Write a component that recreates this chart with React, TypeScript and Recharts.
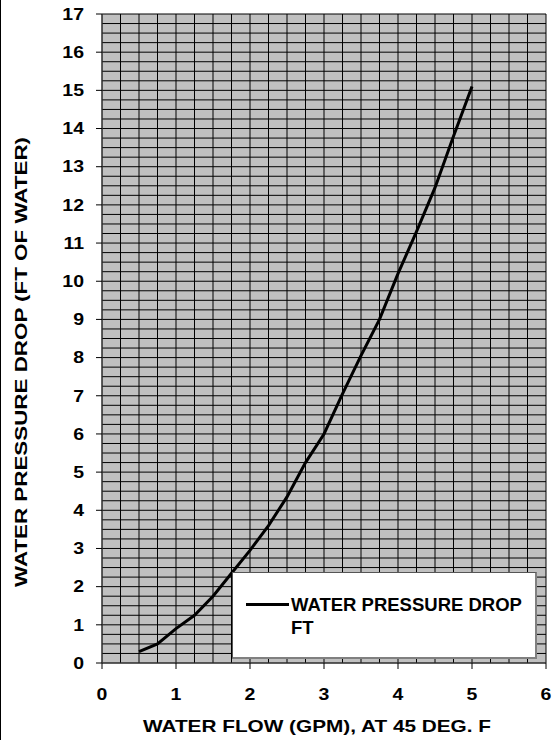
import React from 'react';
import { LineChart, Line, XAxis, YAxis, CartesianGrid } from 'recharts';

const flowGpm = [0.5, 0.75, 1, 1.25, 1.5, 1.75, 2, 2.25, 2.5, 2.75, 3, 3.25, 3.5, 3.75, 4, 4.25, 4.5, 4.75, 5];
const pressureDropFt = [0.3, 0.5, 0.9, 1.25, 1.75, 2.35, 2.95, 3.6, 4.35, 5.25, 6.0, 7.05, 8.05, 9.0, 10.2, 11.3, 12.45, 13.8, 15.1];
const xTicks = [0, 1, 2, 3, 4, 5, 6];
const yTicks = [0, 1, 2, 3, 4, 5, 6, 7, 8, 9, 10, 11, 12, 13, 14, 15, 16, 17];
const legendLines = ['WATER PRESSURE DROP', 'FT'];
const xTitle = 'WATER FLOW (GPM), AT 45 DEG. F';
const yTitle = 'WATER PRESSURE DROP (FT OF WATER)';

const data = flowGpm.map((x, i) => ({ x, y: pressureDropFt[i] }));

const gridX: number[] = [];
for (let i = 0; i <= 24; i++) gridX.push(i / 4);
const gridY: number[] = [];
for (let i = 0; i <= 68; i++) gridY.push(i / 4);

const FONT = 'Arial, "Liberation Sans", Helvetica, sans-serif';

const YTick = (props: any) => {
  const { x, y, payload } = props;
  return (
    <text
      transform={`translate(${x},${y}) scale(1.18,1)`}
      x={0}
      y={0}
      dy="0.35em"
      textAnchor="end"
      fontFamily={FONT}
      fontWeight="bold"
      fontSize={16.5}
      fill="#000"
    >
      {payload.value}
    </text>
  );
};

const XTick = (props: any) => {
  const { x, y, payload } = props;
  return (
    <text
      transform={`translate(${x},${y}) scale(1.18,1)`}
      x={0}
      y={0}
      dy="0.35em"
      textAnchor="middle"
      fontFamily={FONT}
      fontWeight="bold"
      fontSize={16.5}
      fill="#000"
    >
      {payload.value}
    </text>
  );
};

const LegendBox = () => (
  <div
    style={{
      position: 'absolute',
      left: 231,
      top: 572,
      width: 302,
      height: 84,
      background: '#fff',
      borderTop: '1px solid #555',
      borderLeft: '1px solid #555',
      borderRight: '2px solid #808080',
      borderBottom: '2px solid #808080',
      fontFamily: FONT,
      fontWeight: 'bold',
      fontSize: 18.5,
      color: '#000',
    }}
  >
    <div style={{ position: 'absolute', left: 13, top: 30, width: 43, height: 3, background: '#000' }} />
    <div style={{ position: 'absolute', left: 58, top: 20, lineHeight: '23px', whiteSpace: 'nowrap' }}>
      {legendLines[0]}
      <br />
      {legendLines[1]}
    </div>
  </div>
);

export default function App() {
  return (
    <div style={{ position: 'absolute', left: 0, top: 0, width: 559, height: 740, background: '#fff', borderLeft: '1px solid #000', boxSizing: 'border-box' }}>
      <LineChart width={558} height={740} data={data} margin={{ top: 14, right: 13, bottom: 0, left: 0 }}>
        <CartesianGrid
          fill="#C0C0C0"
          stroke="#000"
          strokeWidth={1}
          verticalValues={gridX}
          horizontalValues={gridY}
        />
        <XAxis
          type="number"
          dataKey="x"
          domain={[0, 6]}
          ticks={xTicks}
          height={77}
          tickSize={6}
          tickMargin={25}
          stroke="#404040"
          tickLine={{ stroke: '#000' }}
          tick={<XTick />}
          interval={0}
          label={{
            content: () => (
              <text
                x={316}
                y={726}
                dy="0.35em"
                textAnchor="middle"
                fontFamily={FONT}
                fontWeight="bold"
                fontSize={16.5}
                textLength={348}
                lengthAdjust="spacingAndGlyphs"
                fill="#000"
              >
                {xTitle}
              </text>
            ),
          }}
        />
        <YAxis
          type="number"
          domain={[0, 17]}
          ticks={yTicks}
          width={101}
          tickSize={6}
          tickMargin={12}
          stroke="#404040"
          tickLine={{ stroke: '#000' }}
          tick={<YTick />}
          interval={0}
          label={{
            content: () => (
              <text
                transform="translate(20,362) rotate(-90)"
                x={0}
                y={0}
                dy="0.35em"
                textAnchor="middle"
                fontFamily={FONT}
                fontWeight="bold"
                fontSize={16.5}
                textLength={450}
                lengthAdjust="spacingAndGlyphs"
                fill="#000"
              >
                {yTitle}
              </text>
            ),
          }}
        />
        <Line
          type="linear"
          dataKey="y"
          stroke="#000"
          strokeWidth={3}
          dot={false}
          isAnimationActive={false}
        />
      </LineChart>
      <LegendBox />
    </div>
  );
}
